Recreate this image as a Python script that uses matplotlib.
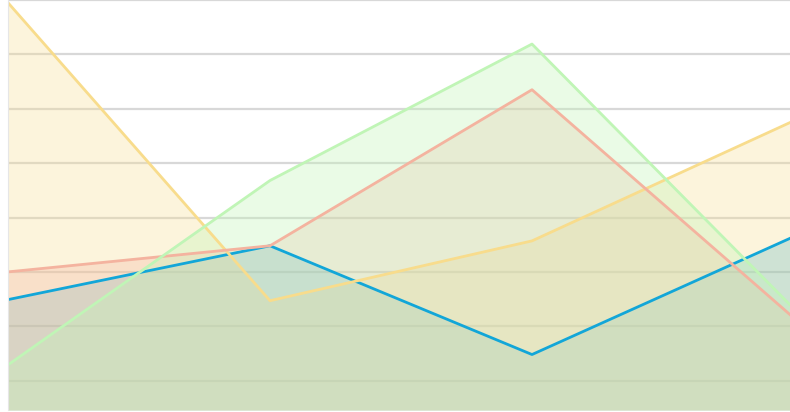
import numpy as np
import matplotlib
matplotlib.use("Agg")
import matplotlib.pyplot as plt

# Four series over four categories
categories = [0, 1, 2, 3]
yellow_vals = [69.5, 14.7, 25.7, 47.8]
blue_vals = [14.9, 24.8, 4.8, 26.5]
salmon_vals = [20.0, 24.8, 53.5, 11.5]
green_vals = [2.9, 36.8, 61.9, 13.2]

# drawn bottom to top: (values, colour, fill alpha)
series = [
    (blue_vals, "#12a6d8", 0.28),
    (yellow_vals, "#f8dc8c", 0.3),
    (salmon_vals, "#f4b39f", 0.3),
    (green_vals, "#c0f5b6", 0.33),
]

y_bottom = -5.4
y_top = 70

fig = plt.figure(figsize=(7.9, 4.12), dpi=100)
ax = fig.add_axes([8 / 790, 2 / 412, 782 / 790, 410 / 412])

# horizontal grid
for g in range(0, 71, 10):
    ax.axhline(g, color="#d8d8d8", linewidth=1.6, zorder=0)

x = np.array(categories)
for vals, col, a in series:
    ax.fill_between(x, vals, y_bottom, color=col, alpha=a, linewidth=0, zorder=1)
for vals, col, a in series:
    ax.plot(x, vals, color=col, linewidth=2.0, zorder=2)

ax.set_xlim(0, 782 / 262)
ax.set_ylim(y_bottom, y_top)
ax.set_xticks([])
ax.set_yticks([])
for side in ["top", "right", "bottom"]:
    ax.spines[side].set_visible(False)
ax.spines["left"].set_color("#e6e6e6")
ax.spines["left"].set_linewidth(0.8)

fig.savefig("out.png", dpi=100)
